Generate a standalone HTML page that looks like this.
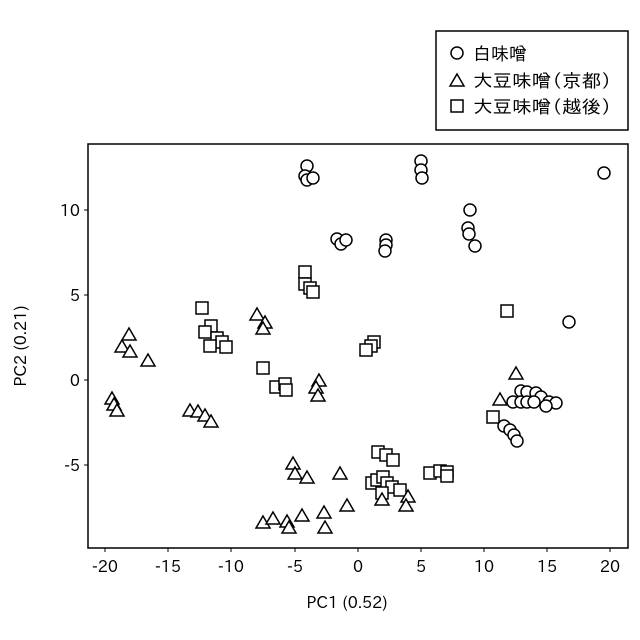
<!DOCTYPE html>
<html><head><style>body{margin:0;background:#fff}svg{display:block}text{font-family:"IPAPGothic","IPAGothic","Noto Sans CJK JP",sans-serif;fill:#000}</style></head>
<body>
<svg width="640" height="640" xmlns="http://www.w3.org/2000/svg">
<defs>
<circle id="c" r="6" fill="#fff" stroke="#000" stroke-width="1.5"/>
<path id="t" d="M0,-7 L7,5 L-7,5 Z" fill="#fff" stroke="#000" stroke-width="1.5" stroke-linejoin="miter"/>
<rect id="s" x="-6" y="-6" width="12" height="12" fill="#fff" stroke="#000" stroke-width="1.5"/>
</defs>
<rect x="88" y="144" width="540" height="404" fill="none" stroke="#000" stroke-width="1.5"/>
<g stroke="#000" stroke-width="1">
<line x1="105" y1="548" x2="105" y2="552"/><line x1="168" y1="548" x2="168" y2="552"/><line x1="231" y1="548" x2="231" y2="552"/><line x1="295" y1="548" x2="295" y2="552"/><line x1="358" y1="548" x2="358" y2="552"/><line x1="421" y1="548" x2="421" y2="552"/><line x1="484" y1="548" x2="484" y2="552"/><line x1="547" y1="548" x2="547" y2="552"/><line x1="610" y1="548" x2="610" y2="552"/>
<line x1="84" y1="210" x2="88" y2="210"/><line x1="84" y1="295" x2="88" y2="295"/><line x1="84" y1="380" x2="88" y2="380"/><line x1="84" y1="465" x2="88" y2="465"/>
</g>
<g font-size="16" text-anchor="middle">
<text x="105" y="572">-20</text><text x="168" y="572">-15</text><text x="231" y="572">-10</text><text x="295" y="572">-5</text><text x="358" y="572">0</text><text x="421" y="572">5</text><text x="484" y="572">10</text><text x="547" y="572">15</text><text x="610" y="572">20</text>
</g>
<g font-size="16" text-anchor="end">
<text x="80" y="216">10</text><text x="80" y="301">5</text><text x="80" y="386">0</text><text x="80" y="471">-5</text>
</g>
<text x="347" y="608" font-size="16" text-anchor="middle">PC1 (0.52)</text>
<text transform="translate(26,346) rotate(-90)" font-size="16" text-anchor="middle">PC2 (0.21)</text>
<g>
<use href="#s" x="305" y="272"/><use href="#s" x="305" y="284"/><use href="#s" x="310" y="288"/><use href="#s" x="313" y="292"/>
<use href="#s" x="202" y="308"/><use href="#s" x="211" y="326"/><use href="#s" x="205" y="332"/><use href="#s" x="217" y="338"/><use href="#s" x="222" y="342"/><use href="#s" x="210" y="346"/><use href="#s" x="226" y="347"/>
<use href="#s" x="263" y="368"/><use href="#s" x="276" y="387"/><use href="#s" x="285" y="384"/><use href="#s" x="286" y="390"/>
<use href="#s" x="374" y="342"/><use href="#s" x="371" y="346"/><use href="#s" x="366" y="350"/>
<use href="#s" x="507" y="311"/><use href="#s" x="493" y="417"/>
<use href="#s" x="378" y="452"/><use href="#s" x="386" y="455"/><use href="#s" x="393" y="460"/>
<use href="#s" x="372" y="483"/><use href="#s" x="377" y="480"/><use href="#s" x="383" y="477"/><use href="#s" x="387" y="483"/><use href="#s" x="392" y="487"/><use href="#s" x="400" y="490"/><use href="#s" x="382" y="493"/>
<use href="#s" x="430" y="473"/><use href="#s" x="440" y="471"/><use href="#s" x="447" y="472"/><use href="#s" x="447" y="476"/>
</g>
<g>
<use href="#t" x="129" y="335"/><use href="#t" x="122" y="347"/><use href="#t" x="130" y="352"/><use href="#t" x="148" y="361"/>
<use href="#t" x="112" y="399"/><use href="#t" x="114" y="405"/><use href="#t" x="117" y="411"/>
<use href="#t" x="190" y="411"/><use href="#t" x="198" y="412"/><use href="#t" x="205" y="416"/><use href="#t" x="211" y="422"/>
<use href="#t" x="257" y="315"/><use href="#t" x="265" y="323"/><use href="#t" x="263" y="329"/>
<use href="#t" x="319" y="381"/><use href="#t" x="316" y="388"/><use href="#t" x="318" y="396"/>
<use href="#t" x="500" y="400"/><use href="#t" x="516" y="374"/>
<use href="#t" x="293" y="464"/><use href="#t" x="295" y="474"/><use href="#t" x="307" y="478"/><use href="#t" x="340" y="474"/>
<use href="#t" x="347" y="506"/><use href="#t" x="324" y="513"/><use href="#t" x="325" y="528"/><use href="#t" x="302" y="516"/>
<use href="#t" x="263" y="523"/><use href="#t" x="273" y="519"/><use href="#t" x="287" y="522"/><use href="#t" x="289" y="528"/>
<use href="#t" x="382" y="500"/><use href="#t" x="408" y="497"/><use href="#t" x="406" y="506"/>
</g>
<g>
<use href="#c" x="307" y="166"/><use href="#c" x="305" y="176"/><use href="#c" x="307" y="180"/><use href="#c" x="313" y="178"/>
<use href="#c" x="421" y="161"/><use href="#c" x="421" y="170"/><use href="#c" x="422" y="178"/>
<use href="#c" x="470" y="210"/><use href="#c" x="468" y="228"/><use href="#c" x="469" y="234"/><use href="#c" x="475" y="246"/>
<use href="#c" x="337" y="239"/><use href="#c" x="341" y="244"/><use href="#c" x="346" y="240"/>
<use href="#c" x="386" y="240"/><use href="#c" x="386" y="245"/><use href="#c" x="385" y="251"/>
<use href="#c" x="604" y="173"/><use href="#c" x="569" y="322"/>
<use href="#c" x="521" y="391"/><use href="#c" x="527" y="392"/><use href="#c" x="536" y="393"/><use href="#c" x="541" y="397"/>
<use href="#c" x="513" y="402"/><use href="#c" x="521" y="402"/><use href="#c" x="527" y="402"/><use href="#c" x="534" y="402"/><use href="#c" x="549" y="402"/><use href="#c" x="556" y="403"/><use href="#c" x="546" y="406"/>
<use href="#c" x="504" y="426"/><use href="#c" x="510" y="430"/><use href="#c" x="514" y="435"/><use href="#c" x="517" y="441"/>
</g>
<rect x="436" y="31" width="192" height="99" fill="#fff" stroke="#000" stroke-width="1.5"/>
<use href="#c" x="457" y="53"/><use href="#t" x="457" y="81"/><use href="#s" x="457" y="106"/>
<g font-size="18">
<text x="473" y="60">白味噌</text>
<text x="473" y="87" textLength="139" lengthAdjust="spacingAndGlyphs">大豆味噌（京都）</text>
<text x="473" y="113" textLength="139" lengthAdjust="spacingAndGlyphs">大豆味噌（越後）</text>
</g>
</svg>
</body></html>
